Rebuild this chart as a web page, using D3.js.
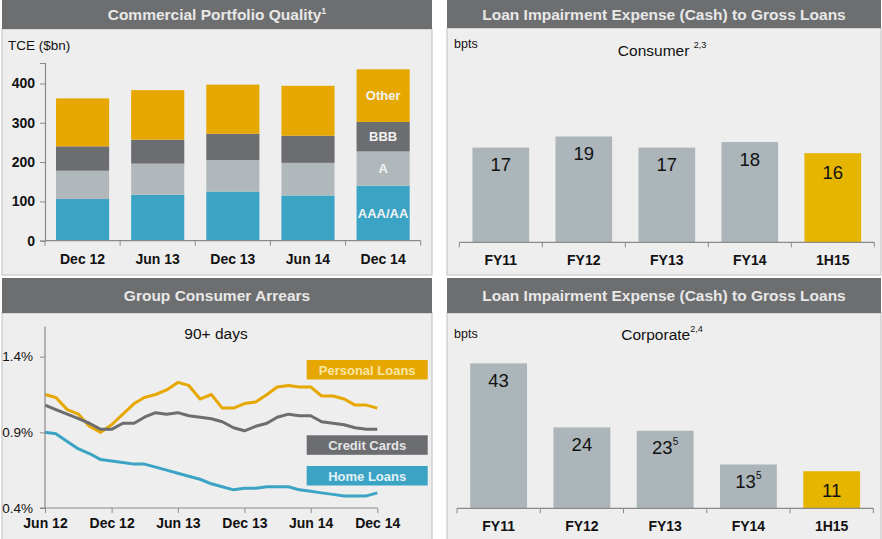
<!DOCTYPE html>
<html>
<head>
<meta charset="utf-8">
<script src="https://cdn.jsdelivr.net/npm/d3@7"></script>
<style>
  body { margin: 0; background: #fff; }
  svg { font-family: 'Liberation Sans', Arial, sans-serif; display: block; }
</style>
</head>
<body>
<div id="chart"></div>
<script>
// commercial portfolio, TCE $bn
const portfolioPeriods = ['Dec 12', 'Jun 13', 'Dec 13', 'Jun 14', 'Dec 14']
const ratingAAA = [106, 117, 125, 115, 140]
const ratingA = [72, 79, 80, 83, 87]
const ratingBBB = [62, 61, 67, 69, 75]
const ratingOther = [122, 126, 125, 127, 134]
const segmentNames = ['AAA/AA', 'A', 'BBB', 'Other']
const portfolioTicks = [0, 100, 200, 300, 400]

// loan impairment, bpts
const impairmentYears = ['FY11', 'FY12', 'FY13', 'FY14', '1H15']
const consumerBpts = [17, 19, 17, 18, 16]
const corporateBpts = [43, 24, 23, 13, 11]
const corporateNotes = ['', '', '5', '5', '']

// 90+ days arrears, monthly Jun 12 - Dec 14 (%)
const personalLoans = [1.15, 1.13, 1.05, 1.02, 0.94, 0.90, 0.95, 1.02, 1.09, 1.13, 1.15, 1.18, 1.23, 1.21, 1.12, 1.15,
  1.06, 1.06, 1.09, 1.10, 1.15, 1.20, 1.21, 1.20, 1.20, 1.14, 1.14, 1.12, 1.08, 1.08, 1.06]
const creditCards = [1.08, 1.05, 1.02, 0.99, 0.96, 0.92, 0.92, 0.96, 0.96, 1.00, 1.03, 1.02, 1.03, 1.01, 1.00, 0.99,
  0.97, 0.93, 0.91, 0.94, 0.96, 1.00, 1.02, 1.01, 1.01, 0.97, 0.96, 0.95, 0.93, 0.92, 0.92]
const homeLoans = [0.90, 0.89, 0.84, 0.79, 0.76, 0.72, 0.71, 0.70, 0.69, 0.69, 0.67, 0.65, 0.63, 0.61, 0.59, 0.56,
  0.54, 0.52, 0.53, 0.53, 0.54, 0.54, 0.54, 0.52, 0.51, 0.50, 0.49, 0.48, 0.48, 0.48, 0.50]
const arrearsNames = ['Personal Loans', 'Credit Cards', 'Home Loans']
const arrearsTicks = [0.4, 0.9, 1.4]

const headerFill = '#6d6e70'
const gold = '#e6a800'
const teal = '#3ba4c4'
const darkGrey = '#6c6d71'
const lightGrey = '#b1b8bc'
const barGrey = '#abb5ba'
const highlight = '#e6b500'
const axisColor = '#8a8a8a'

const svg = d3
  .select('#chart')
  .append('svg')
  .attr('width', 882)
  .attr('height', 539)

function panel(x, y, w, headH, bodyH, title, sup) {
  svg.append('rect')
    .attr('x', x).attr('y', y + headH).attr('width', w).attr('height', bodyH)
    .attr('fill', '#eeeeee').attr('stroke', '#c9c9c9').attr('stroke-width', 1.2)
  svg.append('rect')
    .attr('x', x).attr('y', y).attr('width', w).attr('height', headH)
    .attr('fill', headerFill)
  const t = svg.append('text')
    .attr('x', x + w / 2).attr('y', y + headH / 2 + 5.5)
    .attr('text-anchor', 'middle')
    .attr('fill', '#e8e8e8')
    .attr('font-weight', 'bold')
    .attr('font-size', 15.5)
    .text(title)
  if (sup) {
    t.append('tspan').attr('font-size', 9).attr('dy', -6).text(sup)
  }
}

panel(2, 0, 430, 29, 246, 'Commercial Portfolio Quality', '1')
panel(447, 0, 434, 28, 247, 'Loan Impairment Expense (Cash) to Gross Loans')
panel(2, 278, 430, 35, 262, 'Group Consumer Arrears')
panel(447, 278, 434, 35, 262, 'Loan Impairment Expense (Cash) to Gross Loans')

// band axis with ticks on the category edges
function bandAxis(x, y0) {
  const half = (x.step() - x.bandwidth()) / 2
  const cats = x.domain()
  const edges = cats.map(d => x(d) - half)
  edges.push(x(cats[cats.length - 1]) + x.bandwidth() + half)

  const g = svg.append('g')
  g.append('line')
    .attr('x1', edges[0]).attr('x2', edges[edges.length - 1])
    .attr('y1', y0).attr('y2', y0)
    .attr('stroke', axisColor).attr('stroke-width', 1.2)
  g.selectAll('.edge')
    .data(edges)
    .enter()
    .append('line')
    .attr('x1', d => d).attr('x2', d => d)
    .attr('y1', y0).attr('y2', y0 + 5)
    .attr('stroke', axisColor)
  g.selectAll('.cat')
    .data(cats)
    .enter()
    .append('text')
    .attr('x', d => x(d) + x.bandwidth() / 2)
    .attr('y', y0 + 23)
    .attr('text-anchor', 'middle')
    .attr('font-size', 14)
    .attr('font-weight', 'bold')
    .attr('fill', '#111')
    .text(d => d)
}

// ---- Commercial Portfolio Quality ----
const portfolioRows = portfolioPeriods.map((p, i) => ({
  period: p,
  'AAA/AA': ratingAAA[i],
  A: ratingA[i],
  BBB: ratingBBB[i],
  Other: ratingOther[i]
}))
const stacked = d3.stack().keys(segmentNames)(portfolioRows)
const segmentColors = d3.scaleOrdinal().domain(segmentNames).range([teal, lightGrey, darkGrey, gold])

const xPortfolio = d3.scaleBand()
  .domain(portfolioPeriods)
  .range([45, 420.7])
  .paddingInner(0.293)
  .paddingOuter(0.1465)

const yPortfolio = d3.scaleLinear()
  .domain([0, 452])
  .range([240.7, 63])

svg.append('g')
  .selectAll('g')
  .data(stacked)
  .enter()
  .append('g')
  .attr('fill', d => segmentColors(d.key))
  .selectAll('rect')
  .data(d => d)
  .enter()
  .append('rect')
  .attr('x', d => xPortfolio(d.data.period))
  .attr('y', d => yPortfolio(d[1]))
  .attr('width', xPortfolio.bandwidth())
  .attr('height', d => yPortfolio(d[0]) - yPortfolio(d[1]))

// segment names on the last bar
svg.append('g')
  .selectAll('text')
  .data(stacked)
  .enter()
  .append('text')
  .attr('x', xPortfolio('Dec 14') + xPortfolio.bandwidth() / 2)
  .attr('y', d => yPortfolio((d[4][0] + d[4][1]) / 2) + 4.5)
  .attr('text-anchor', 'middle')
  .attr('font-size', 13)
  .attr('font-weight', 'bold')
  .attr('fill', '#f2f2f2')
  .text(d => d.key)

const yAxisPortfolio = d3.axisLeft(yPortfolio).tickValues(portfolioTicks).tickSize(5).tickPadding(5)
const yAxisG = svg.append('g')
  .attr('transform', 'translate(45,0)')
  .call(yAxisPortfolio)
yAxisG.select('.domain').attr('stroke', axisColor).attr('stroke-width', 1.2)
yAxisG.selectAll('.tick line').attr('stroke', axisColor)
yAxisG.selectAll('.tick text')
  .attr('font-size', 14).attr('font-weight', 'bold').attr('fill', '#111')
  .attr('font-family', 'Liberation Sans, Arial, sans-serif')

bandAxis(xPortfolio, 240.7)

svg.append('text')
  .attr('x', 8).attr('y', 50)
  .attr('font-size', 13.5)
  .attr('fill', '#111')
  .text('TCE ($bn)')

// ---- Loan impairment bar charts ----
function impairmentChart(values, notes, range, y0, pxPerUnit, subtitle, sup, subY, bptsY) {
  const x = d3.scaleBand()
    .domain(impairmentYears)
    .range(range)
    .paddingInner(0.317)
    .paddingOuter(0.1585)
  const y = d3.scaleLinear()
    .domain([0, 10])
    .range([y0, y0 - 10 * pxPerUnit])

  const rows = impairmentYears.map((d, i) => ({ year: d, value: values[i], note: notes[i] }))

  svg.append('g')
    .selectAll('rect')
    .data(rows)
    .enter()
    .append('rect')
    .attr('x', d => x(d.year))
    .attr('y', d => y(d.value))
    .attr('width', x.bandwidth())
    .attr('height', d => y0 - y(d.value))
    .attr('fill', (d, i) => i === rows.length - 1 ? highlight : barGrey)

  const labels = svg.append('g')
    .selectAll('text')
    .data(rows)
    .enter()
    .append('text')
    .attr('x', d => x(d.year) + x.bandwidth() / 2)
    .attr('y', (d, i) => y(d.value) + (i === rows.length - 1 ? 25.5 : 23.5))
    .attr('text-anchor', 'middle')
    .attr('font-size', 18.5)
    .attr('fill', '#111')
  labels.append('tspan').text(d => d.value)
  labels.filter(d => d.note)
    .append('tspan')
    .attr('font-size', 10)
    .attr('dy', -9)
    .text(d => d.note)

  bandAxis(x, y0)

  svg.append('text')
    .attr('x', 454).attr('y', bptsY)
    .attr('font-size', 12.5)
    .attr('fill', '#111')
    .text('bpts')

  const t = svg.append('text')
    .attr('x', 662).attr('y', subY)
    .attr('text-anchor', 'middle')
    .attr('font-size', 15.5)
    .attr('fill', '#111')
    .text(subtitle)
  t.append('tspan').attr('font-size', 9).attr('dy', -8).text(sup)
}

impairmentChart(consumerBpts, ['', '', '', '', ''], [459.3, 874.3], 242.3, 5.57, 'Consumer ', '2,3', 55.5, 47.5)
impairmentChart(corporateBpts, corporateNotes, [457, 873.3], 508.3, 3.37, 'Corporate', '2,4', 339.5, 337.5)

// ---- Group Consumer Arrears ----
const months = d3.timeMonth.range(new Date(2012, 5, 1), new Date(2015, 0, 1))
const arrearsSeries = [personalLoans, creditCards, homeLoans]
const arrearsColors = [gold, darkGrey, teal]

const xArrears = d3.scaleTime()
  .domain([months[0], months[months.length - 1]])
  .range([45, 377.3])
const yArrears = d3.scaleLinear()
  .domain([0.4, 1.6])
  .range([508, 326.4])

const line = d3.line()
  .x((d, i) => xArrears(months[i]))
  .y(d => yArrears(d))

svg.append('g')
  .selectAll('path')
  .data(arrearsSeries)
  .enter()
  .append('path')
  .attr('d', d => line(d))
  .attr('fill', 'none')
  .attr('stroke', (d, i) => arrearsColors[i])
  .attr('stroke-width', 3)
  .attr('stroke-linejoin', 'round')

const xAxisArrears = d3.axisBottom(xArrears)
  .tickValues(months.filter((d, i) => i % 6 === 0))
  .tickFormat(d3.timeFormat('%b %y'))
  .tickSize(5)
  .tickPadding(5)
const xAxisG = svg.append('g')
  .attr('transform', 'translate(0,508)')
  .call(xAxisArrears)
xAxisG.select('.domain').attr('stroke', axisColor).attr('stroke-width', 1.2)
  .attr('d', 'M40,0H377.3')
xAxisG.selectAll('.tick line').attr('stroke', axisColor)
xAxisG.selectAll('.tick text')
  .attr('font-size', 14).attr('font-weight', 'bold').attr('fill', '#111')
  .attr('font-family', 'Liberation Sans, Arial, sans-serif')

const yAxisArrears = d3.axisLeft(yArrears)
  .tickValues(arrearsTicks)
  .tickFormat(d => d3.format('.1f')(d) + '%')
  .tickSize(5)
  .tickPadding(7)
const yAxisArrG = svg.append('g')
  .attr('transform', 'translate(45,0)')
  .call(yAxisArrears)
yAxisArrG.select('.domain').attr('stroke', axisColor).attr('stroke-width', 1.2)
  .attr('d', 'M0,326.4V508')
yAxisArrG.selectAll('.tick line').attr('stroke', axisColor)
yAxisArrG.selectAll('.tick text')
  .attr('font-size', 13.5).attr('fill', '#111')
  .attr('font-family', 'Liberation Sans, Arial, sans-serif')

svg.append('text')
  .attr('x', 216).attr('y', 339)
  .attr('text-anchor', 'middle')
  .attr('font-size', 15.5)
  .attr('fill', '#111')
  .text('90+ days')

// series name boxes
const legendTops = [360, 435.3, 466]
const legendText = ['#f8e6a6', '#e6e6e6', '#e2f1f6']
const legend = svg.append('g')
  .selectAll('g')
  .data(arrearsNames)
  .enter()
  .append('g')
  .attr('transform', (d, i) => 'translate(306.7,' + legendTops[i] + ')')
legend.append('rect')
  .attr('width', 121)
  .attr('height', 19.5)
  .attr('fill', (d, i) => arrearsColors[i])
legend.append('text')
  .attr('x', 60.5)
  .attr('y', 14.5)
  .attr('text-anchor', 'middle')
  .attr('font-size', 13)
  .attr('font-weight', 'bold')
  .attr('fill', (d, i) => legendText[i])
  .text(d => d)
</script>
</body>
</html>
